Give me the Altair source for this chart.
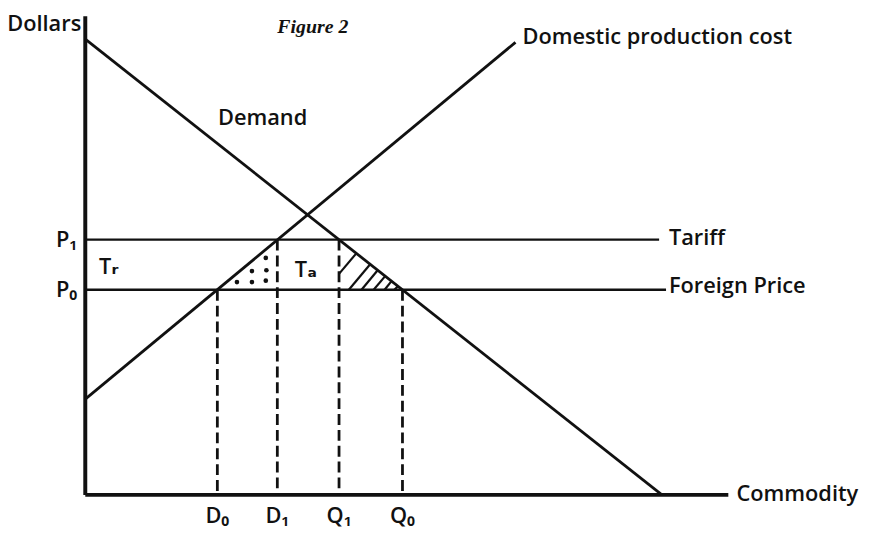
import altair as alt
import pandas as pd

# ---- data (economic units) ----
demand_q = [0, 100]
demand_p = [100, 0]
supply_q = [0, 74.6]
supply_p = [21, 99.3]
price_names = ["Tariff", "Foreign Price"]
price_levels = [56, 45]
price_line_end = [99.5, 100.7]
axis_y_top = 105
axis_x_end = 111.5

drop_q = [22.9, 33.3, 44, 55]
drop_top = [45, 56, 56, 45]
drop_labels = ["D\u2080", "D\u2081", "Q\u2081", "Q\u2080"]

dots_q = [26.3, 28.9, 31.3, 28.9, 31.4, 31.3]
dots_p = [46.7, 46.7, 47.0, 49.1, 49.3, 52.0]

hatch_q = [44.0, 45.7, 47.9, 50.0, 51.9, 53.6]
hatch_p = [48.5, 45, 45, 45, 45, 45]
hatch_q2 = [47.0, 49.4, 50.7, 52.0, 53.1, 54.2]
hatch_p2 = [53.0, 50.6, 49.3, 48.0, 46.9, 45.8]

# ---- scales ----
xs = alt.Scale(domain=[-13.4, 135.2], nice=False, zero=False)
ys = alt.Scale(domain=[-7.83, 106.3], nice=False, zero=False)

FONT = "Open Sans, DejaVu Sans"
FS = 22

segs = pd.DataFrame({
    "q":  [0, 0, demand_q[0], supply_q[0], 0, 0],
    "p":  [0, 0, demand_p[0], supply_p[0], price_levels[0], price_levels[1]],
    "q2": [0, axis_x_end, demand_q[1], supply_q[1], price_line_end[0], price_line_end[1]],
    "p2": [axis_y_top, 0, demand_p[1], supply_p[1], price_levels[0], price_levels[1]],
    "w":  [4, 4, 2.8, 2.8, 2.4, 2.4],
})

base_enc = dict(
    x=alt.X("q:Q", scale=xs, axis=None),
    y=alt.Y("p:Q", scale=ys, axis=None),
    x2="q2:Q",
    y2="p2:Q",
)

solid = alt.Chart(segs).mark_rule(color="#111", strokeCap="butt").encode(
    strokeWidth=alt.StrokeWidth("w:Q", scale=None, legend=None), **base_enc
)

drops = pd.DataFrame({"q": drop_q, "p": drop_top, "q2": drop_q, "p2": [0] * 4, "lab": drop_labels})
dashed = alt.Chart(drops).mark_rule(color="#111", strokeWidth=2.8, strokeDash=[11, 5], strokeCap="butt").encode(**base_enc)

drop_text = alt.Chart(drops).mark_text(font=FONT, fontSize=FS, fontWeight=600, baseline="middle", align="center",
                                       color="#111").encode(
    x=alt.X("q:Q", scale=xs, axis=None),
    y=alt.Y("ly:Q", scale=ys, axis=None),
    text="lab:N",
).transform_calculate(ly="-4.6")

hatch = pd.DataFrame({"q": hatch_q, "p": hatch_p, "q2": hatch_q2, "p2": hatch_p2})
hatch_chart = alt.Chart(hatch).mark_rule(color="#111", strokeWidth=2.2).encode(**base_enc)

dots = pd.DataFrame({"q": dots_q, "p": dots_p})
dots_chart = alt.Chart(dots).mark_circle(color="#111", size=22, opacity=1).encode(
    x=alt.X("q:Q", scale=xs, axis=None), y=alt.Y("p:Q", scale=ys, axis=None)
)

labels = pd.DataFrame({
    "text": ["Dollars", "Demand", "Domestic production cost", "Tariff", "Foreign Price", "Commodity",
             "T\u1d63", "T\u2090"],
    "q": [-0.7, 23.0, 75.8, 101.2, 101.2, 112.9, 2.4, 36.3],
    "p": [103.3, 82.6, 100.4, 56.3, 45.8, 0.2, 50.0, 49.3],
    "align": ["right", "left", "left", "left", "left", "left", "left", "left"],
})

def text_layer(df, align, size=FS, weight=600, font=FONT, style="normal"):
    return alt.Chart(df).mark_text(font=font, fontSize=size, fontWeight=weight, fontStyle=style,
                                   align=align, baseline="middle", color="#111").encode(
        x=alt.X("q:Q", scale=xs, axis=None), y=alt.Y("p:Q", scale=ys, axis=None), text="text:N")

left_labels = text_layer(labels[labels["align"] == "left"], "left")
right_labels = text_layer(labels[labels["align"] == "right"], "right")

plabels = pd.DataFrame({"text": ["P\u2081", "P\u2080"], "q": [-1.4, -1.4], "p": price_levels})
p_text = text_layer(plabels, "right")

fig = pd.DataFrame({"text": ["Figure 2"], "q": [33.3], "p": [102.6]})
fig_text = text_layer(fig, "left", size=20, weight="bold", font="Liberation Serif, DejaVu Serif", style="italic")

chart = alt.layer(
    solid, dashed, hatch_chart, dots_chart, drop_text, left_labels, right_labels, p_text, fig_text
).properties(
    width=865, height=525, autosize=alt.AutoSizeParams(type="none"), padding=0, background="white"
).configure_view(stroke=None)

chart.save("out.html", embed_options={"renderer": "svg", "actions": False})
